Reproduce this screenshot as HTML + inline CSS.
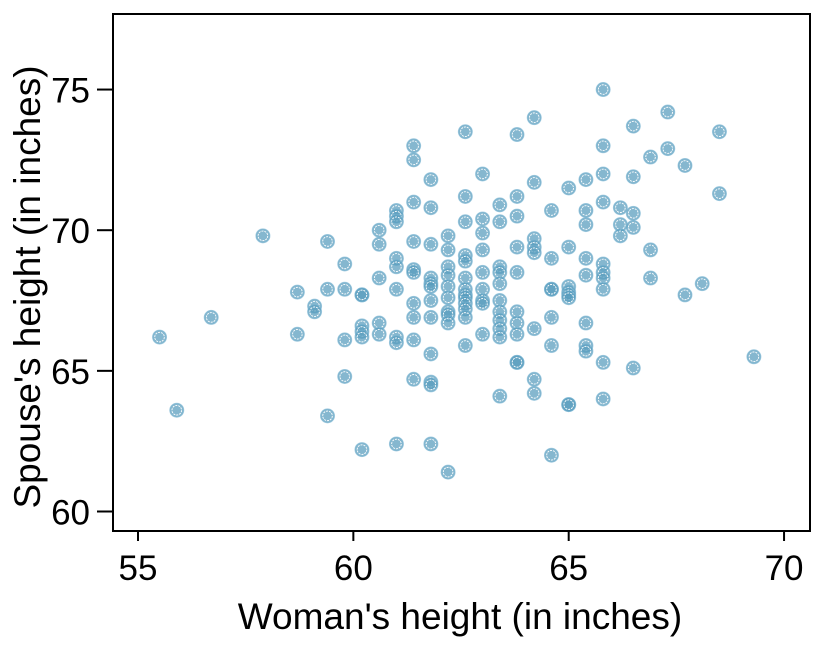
<!DOCTYPE html>
<html><head><meta charset="utf-8"><style>
body{margin:0;background:#fff;}
svg text{font-family:"Liberation Sans",sans-serif;fill:#000;}
</style></head><body>
<svg width="825" height="644">
<rect x="0" y="0" width="825" height="644" fill="#fff"/>
<g id="pts"></g>
<rect x="113" y="14" width="697" height="517" fill="none" stroke="#000" stroke-width="2"/>
<g id="axes"></g>
<text x="460" y="629" font-size="37" text-anchor="middle">Woman's height (in inches)</text>
<text transform="translate(40,287) rotate(-90)" font-size="37" text-anchor="middle">Spouse's height (in inches)</text>
</svg>
<script>
const xTicks=[55,60,65,70];
const yTicks=[60,65,70,75];
const cols=[55.5,55.9,56.7,57.9,58.7,59.1,59.4,59.8,60.2,60.6,61.0,61.4,61.8,62.2,62.6,63.0,63.4,63.8,64.2,64.6,65.0,65.4,65.8,66.2,66.5,66.9,67.3,67.7,68.1,68.5,69.3];
const spouse=[
[66.2],[63.6],[66.9],[69.8],[67.8,66.3],[67.3,67.1],[69.6,67.9,63.4],[68.8,67.9,66.1,64.8],
[67.7,67.7,66.6,66.4,66.2,62.2],[70.0,69.5,68.3,66.7,66.3],
[70.7,70.5,70.3,69.0,68.7,67.9,66.2,66.0,62.4],
[73.0,72.5,71.0,69.6,68.6,68.5,67.4,66.9,66.1,64.7],
[71.8,70.8,69.5,68.3,68.1,68.0,67.5,66.9,65.6,64.6,64.5,62.4],
[69.8,69.3,68.7,68.4,68.0,67.6,67.1,67.0,66.7,61.4],
[73.5,71.2,70.3,69.1,68.9,68.3,67.9,67.7,67.6,67.4,67.2,66.9,65.9],
[72.0,70.4,69.9,69.3,68.5,67.9,67.5,67.4,66.3],
[70.9,70.3,68.7,68.5,68.1,67.5,67.1,66.8,66.5,66.2,64.1],
[73.4,71.2,70.5,69.4,68.5,67.1,66.7,66.3,65.3,65.3],
[74.0,71.7,69.7,69.4,69.2,66.5,64.7,64.2],
[70.7,69.0,67.9,67.9,66.9,65.9,62.0],
[71.5,69.4,68.0,67.8,67.7,67.6,63.8,63.8],
[71.8,70.7,70.2,69.0,68.4,66.7,65.9,65.7],
[75.0,73.0,72.0,71.0,68.8,68.5,68.3,67.9,65.3,64.0],
[70.8,70.2,69.8],[73.7,71.9,70.6,70.1,65.1],[72.6,69.3,68.3],[74.2,72.9],[72.3,67.7],[68.1],[73.5,71.3],[65.5]];
const X=v=>138+(v-55)*43.07;
const Y=v=>511.5-(v-60)*28.13;
const NS="http://www.w3.org/2000/svg";
const pts=document.getElementById('pts');
cols.forEach((cx,i)=>{spouse[i].forEach(sy=>{
 const c=document.createElementNS(NS,'circle');
 c.setAttribute('cx',X(cx));c.setAttribute('cy',Y(sy));c.setAttribute('r',7);
 c.setAttribute('fill','rgba(86,155,189,0.72)');c.setAttribute('stroke','rgba(120,180,210,0.6)');c.setAttribute('stroke-width','1');
 
 
 pts.appendChild(c);
 const d=document.createElementNS(NS,'circle');
 d.setAttribute('cx',X(cx));d.setAttribute('cy',Y(sy));d.setAttribute('r',4.8);
 d.setAttribute('fill','none');d.setAttribute('stroke','#fff');d.setAttribute('stroke-width','0.9');d.setAttribute('stroke-dasharray','2 1');
 
 
 pts.appendChild(d);
});});
const ax=document.getElementById('axes');
xTicks.forEach(t=>{
 const l=document.createElementNS(NS,'line');
 l.setAttribute('x1',X(t));l.setAttribute('x2',X(t));l.setAttribute('y1',531);l.setAttribute('y2',541);l.setAttribute('stroke','#000');l.setAttribute('stroke-width','2');
 
 
 ax.appendChild(l);
 const tx=document.createElementNS(NS,'text');
 tx.setAttribute('x',X(t));tx.setAttribute('y',580);tx.setAttribute('font-size','35');tx.setAttribute('text-anchor','middle');tx.textContent=t;
 
 
 ax.appendChild(tx);
});
yTicks.forEach(t=>{
 const l=document.createElementNS(NS,'line');
 l.setAttribute('x1',97);l.setAttribute('x2',113);l.setAttribute('y1',Y(t));l.setAttribute('y2',Y(t));l.setAttribute('stroke','#000');l.setAttribute('stroke-width','2');
 
 
 ax.appendChild(l);
 const tx=document.createElementNS(NS,'text');
 tx.setAttribute('x',90);tx.setAttribute('y',Y(t)+13);tx.setAttribute('font-size','35');tx.setAttribute('text-anchor','end');tx.textContent=t;
 
 
 ax.appendChild(tx);
});
</script>
</body></html>
